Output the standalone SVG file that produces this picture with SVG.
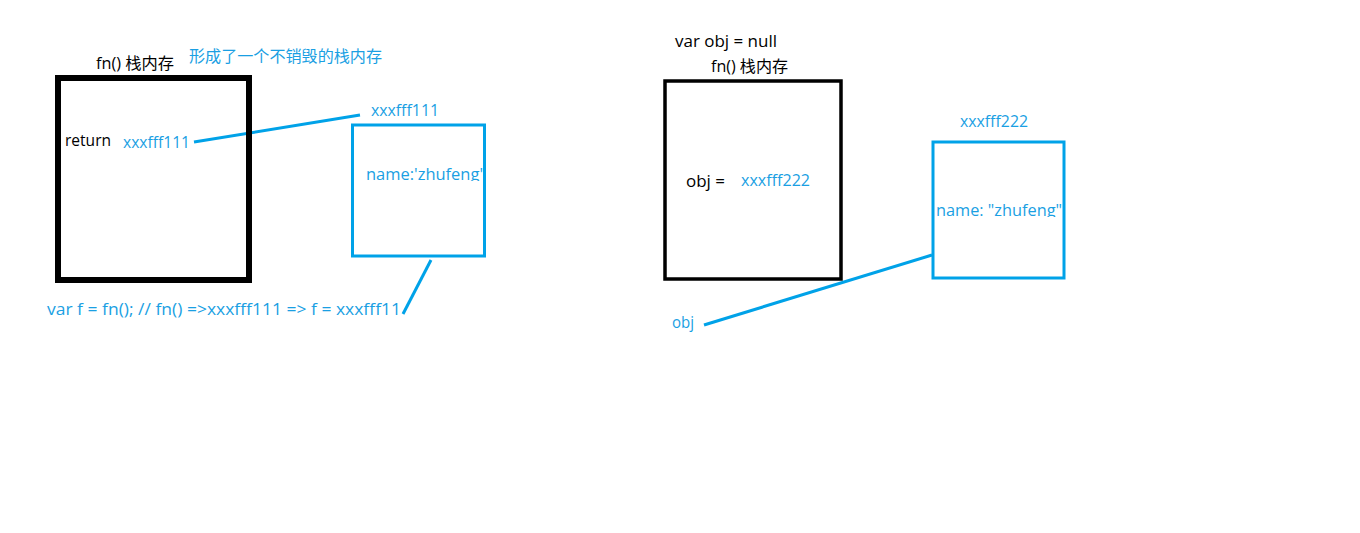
<svg xmlns="http://www.w3.org/2000/svg" width="1360" height="533" viewBox="0 0 1360 533">
<style>
text{font-family:"Open Sans","Noto Sans","Noto Sans CJK SC",sans-serif;font-size:16px}
.k{fill:#000}
.b{fill:#1a9fe3}
.stack{fill:none;stroke:#000}
.heap{fill:none;stroke:#00a2e8;stroke-width:3}
.conn{stroke:#00a2e8;stroke-width:3;fill:none}
</style>
<defs>
<clipPath id="c1"><rect x="354" y="126" width="132" height="55"/></clipPath>
<clipPath id="c2"><rect x="935" y="143" width="130" height="74"/></clipPath>
</defs>
<rect width="1360" height="533" fill="#fff"/>
<g id="connectors">
<line class="conn" x1="194" y1="142" x2="360" y2="115"/>
<line class="conn" x1="431" y1="260" x2="403" y2="314"/>
<line class="conn" x1="932" y1="255" x2="704" y2="325"/>
</g>
<g id="stack1">
<rect class="stack" x="58" y="78" width="191" height="202" stroke-width="6"/>
<text class="k" x="96" y="69" textLength="78" lengthAdjust="spacingAndGlyphs">fn() 栈内存</text>
<text class="b" x="189" y="62" textLength="193" lengthAdjust="spacingAndGlyphs">形成了一个不销毁的栈内存</text>
<text class="k" x="65" y="146" textLength="46" lengthAdjust="spacingAndGlyphs">return</text>
<text class="b" x="123" y="148" textLength="67" lengthAdjust="spacingAndGlyphs">xxxfff111</text>
</g>
<g id="heap1">
<rect class="heap" x="352.5" y="125" width="132" height="131"/>
<text class="b" x="371" y="116" textLength="68" lengthAdjust="spacingAndGlyphs">xxxfff111</text>
<text class="b" x="366" y="180" clip-path="url(#c1)" textLength="117" lengthAdjust="spacingAndGlyphs">name:'zhufeng'</text>
</g>
<g id="note1">
<text class="b" x="47" y="315" textLength="354" lengthAdjust="spacingAndGlyphs">var f = fn(); // fn() =&gt;xxxfff111 =&gt; f = xxxfff11</text>
</g>
<g id="stack2">
<text class="k" x="675" y="47" textLength="102" lengthAdjust="spacingAndGlyphs">var obj = null</text>
<text class="k" x="711" y="72" textLength="77" lengthAdjust="spacingAndGlyphs">fn() 栈内存</text>
<rect class="stack" x="665" y="81" width="176" height="198" stroke-width="3.5"/>
<text class="k" x="686" y="187" textLength="39" lengthAdjust="spacingAndGlyphs">obj =</text>
<text class="b" x="741" y="186" textLength="69" lengthAdjust="spacingAndGlyphs">xxxfff222</text>
</g>
<g id="heap2">
<rect class="heap" x="933" y="142" width="131" height="136"/>
<text class="b" x="960" y="127" textLength="68" lengthAdjust="spacingAndGlyphs">xxxfff222</text>
<text class="b" x="936" y="216" clip-path="url(#c2)" textLength="126" lengthAdjust="spacingAndGlyphs">name: "zhufeng"</text>
</g>
<g id="objlabel">
<text class="b" x="672" y="328" textLength="22" lengthAdjust="spacingAndGlyphs">obj</text>
</g>
</svg>
